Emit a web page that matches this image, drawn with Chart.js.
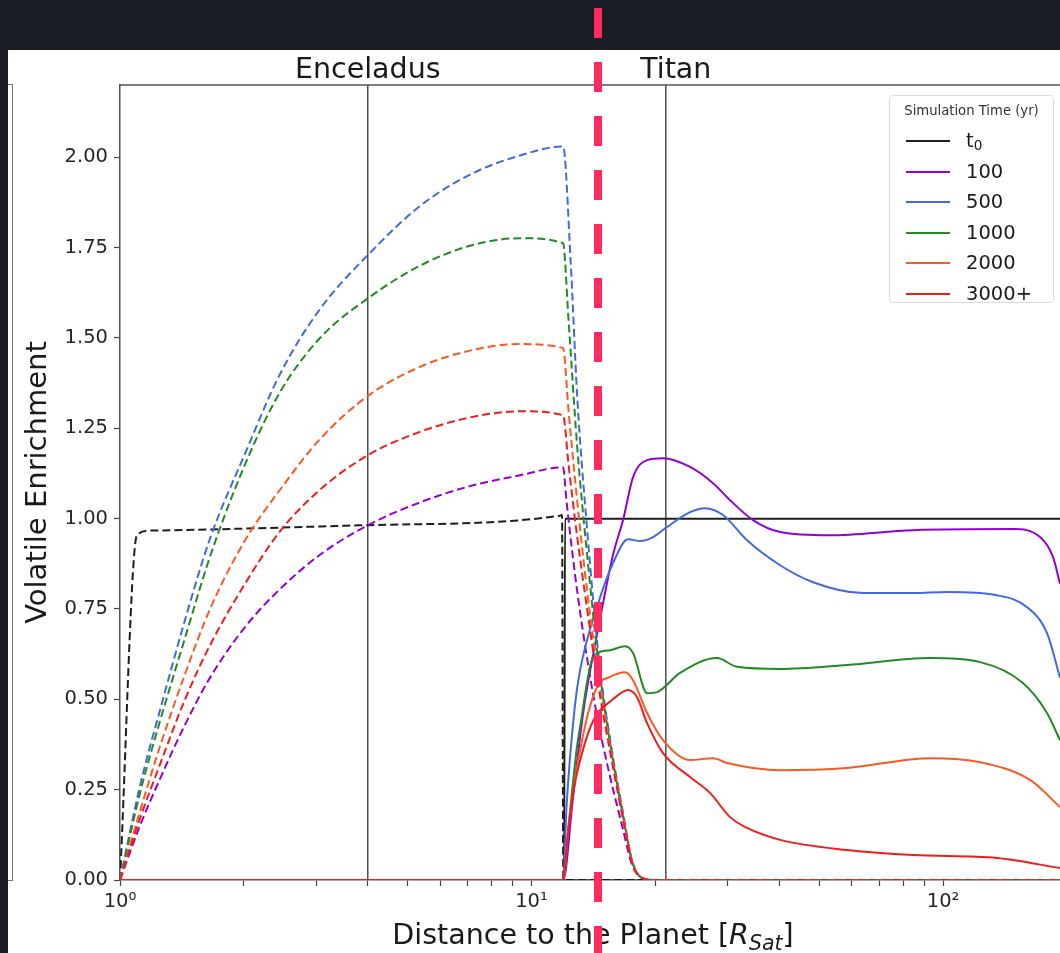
<!DOCTYPE html>
<html>
<head>
<meta charset="utf-8">
<script src="https://cdn.jsdelivr.net/npm/chart.js@4.4.1/dist/chart.umd.min.js"></script>
<style>
  html, body { margin: 0; padding: 0; width: 1060px; height: 953px; overflow: hidden; background: #1b1d25; font-family: 'DejaVu Sans', sans-serif; }
  #panel { position: absolute; left: 8px; top: 50px; width: 1052px; height: 903px; background: #fff; }
  #chart { position: absolute; left: 8px; top: 50px; }
  #leftFrame { position: absolute; left: 8px; top: 84px; width: 4px; height: 795px; border: 1.5px solid #777; border-left: none; }
  #xTitle { position: absolute; left: 293px; width: 600px; top: 921px; text-align: center; font-size: 28.5px; line-height: 1; color: #1a1a1a; }
  #xTitle sub { font-size: 0.72em; vertical-align: -0.28em; line-height: 0; }
  #legend { position: absolute; left: 889px; top: 95px; width: 165px; height: 208px; box-sizing: border-box; border: 1px solid #dcdcdc; border-radius: 4px; background: rgba(255,255,255,0.9); }
  #legend .title { position: absolute; left: 0; width: 100%; top: 7px; text-align: center; font-size: 13.2px; color: #333; }
  #legend .row { position: absolute; left: 0; width: 100%; height: 24px; }
  #legend .swatch { position: absolute; left: 16px; top: 11px; width: 44px; height: 2.2px; }
  #legend .label { position: absolute; left: 76px; top: 0; font-size: 19.5px; line-height: 24px; color: #1a1a1a; }
  #legend sub { font-size: 0.7em; vertical-align: -0.2em; line-height: 0; }
  #marker { position: absolute; left: 594px; top: 8px; width: 8px; height: 945px; background: repeating-linear-gradient(to bottom, #fd2b5f 0px, #fd2b5f 30px, transparent 30px, transparent 54px); }
</style>
</head>
<body>
<div id="panel"></div>
<div id="leftFrame"></div>
<canvas id="chart" width="1052" height="903"></canvas>
<div id="xTitle">Distance to the Planet [<i>R</i><sub><i>Sat</i></sub>]</div>
<div id="legend"><div class="title">Simulation Time (yr)</div></div>
<div id="marker"></div>
<script>
// ==================== DATA ====================
const timeLabels = ['t<sub>0</sub>', '100', '500', '1000', '2000', '3000+'];
const timeColors = ['#1e1e1e', '#9400d3', '#4169e1', '#228b22', '#fa5a24', '#f21c1c'];

const moonNames = ['Enceladus', 'Titan'];
const moonDist = [4.0, 21.2];

const xTickValues = [1, 2, 3, 4, 5, 6, 7, 8, 9, 10, 20, 30, 40, 50, 60, 70, 80, 90, 100];
const xTickLabels = { 1: '10\u2070', 10: '10\u00b9', 100: '10\u00b2' };
const yTickValues = [0, 0.25, 0.5, 0.75, 1.0, 1.25, 1.5, 1.75, 2.0];

// inner disk (dashed) - [distance, enrichment]
const inner_t0 = [[1, 0], [1.100, 0.955], [1.196, 0.967], [4.007, 0.982], [11.73, 1.008], [11.86, 1.01], [11.95, 0], [192.4, 0]];
const inner_100 = [[1, 0], [1.118, 0.15], [1.251, 0.28], [1.439, 0.43], [1.655, 0.56], [2.013, 0.70], [2.448, 0.805], [3.062, 0.90], [4.007, 0.982], [5.358, 1.045], [7.088, 1.09], [9.376, 1.12], [11.93, 1.142], [12.16, 1.05], [12.74, 0.85], [13.49, 0.65], [14.45, 0.45], [15.49, 0.29], [16.6, 0.15], [17.58, 0.04], [18.62, 0.005], [19.95, 0], [192.4, 0]];
const inner_500 = [[1, 0], [1.118, 0.26], [1.251, 0.47], [1.439, 0.72], [1.655, 0.945], [2.013, 1.18], [2.448, 1.40], [3.062, 1.58], [4.007, 1.73], [5.358, 1.865], [7.088, 1.952], [9.376, 2.005], [11.93, 2.03], [12.45, 1.71], [12.91, 1.34], [13.65, 0.97], [14.62, 0.60], [15.67, 0.36], [16.67, 0.19], [17.58, 0.05], [18.62, 0.005], [19.95, 0], [192.4, 0]];
const inner_1000 = [[1, 0], [1.118, 0.24], [1.251, 0.44], [1.439, 0.67], [1.655, 0.895], [2.013, 1.15], [2.448, 1.35], [3.062, 1.50], [4.007, 1.61], [5.358, 1.70], [7.088, 1.755], [9.376, 1.776], [11.93, 1.762], [12.3, 1.55], [12.91, 1.2], [13.65, 0.90], [14.62, 0.58], [15.67, 0.35], [16.67, 0.18], [17.58, 0.05], [18.62, 0.005], [19.95, 0], [192.4, 0]];
const inner_2000 = [[1, 0], [1.118, 0.19], [1.251, 0.37], [1.439, 0.57], [1.655, 0.75], [2.013, 0.94], [2.448, 1.08], [3.062, 1.22], [4.007, 1.34], [5.358, 1.42], [7.088, 1.465], [9.376, 1.483], [11.93, 1.472], [12.3, 1.30], [12.91, 1.05], [13.65, 0.80], [14.62, 0.55], [15.67, 0.34], [16.67, 0.18], [17.58, 0.05], [18.62, 0.005], [19.95, 0], [192.4, 0]];
const inner_3000 = [[1, 0], [1.118, 0.17], [1.251, 0.32], [1.439, 0.50], [1.655, 0.65], [2.013, 0.82], [2.448, 0.965], [3.062, 1.08], [4.007, 1.176], [5.358, 1.24], [7.088, 1.28], [9.376, 1.297], [11.93, 1.286], [12.3, 1.15], [12.91, 0.95], [13.65, 0.75], [14.62, 0.52], [15.67, 0.33], [16.67, 0.17], [17.58, 0.045], [18.62, 0.005], [19.95, 0], [192.4, 0]];

// outer disk (solid)
const outer_t0 = [[1, 0], [12.0, 0], [12.06, 1.0], [192.4, 1.0]];
const outer_100 = [[1, 0], [11.94, 0], [12.59, 0.22], [13.34, 0.46], [14.66, 0.72], [15.78, 0.90], [16.69, 0.996], [17.65, 1.115], [19.09, 1.162], [20.87, 1.167], [24.28, 1.143], [27.61, 1.098], [30.37, 1.051], [34.54, 0.996], [40.18, 0.963], [53.14, 0.954], [84.57, 0.968], [147.9, 0.971], [172.1, 0.949], [185.0, 0.894], [192.4, 0.82]];
const outer_500 = [[1, 0], [11.94, 0], [12.16, 0.2], [12.74, 0.48], [13.12, 0.58], [14.42, 0.755], [15.78, 0.877], [17.16, 0.943], [18.35, 0.938], [19.74, 0.949], [21.35, 0.977], [24.28, 1.018], [26.41, 1.029], [29.2, 1.01], [33.4, 0.94], [40.18, 0.871], [48.32, 0.824], [63.91, 0.794], [84.57, 0.794], [102.3, 0.797], [135.3, 0.788], [160.0, 0.755], [178.9, 0.683], [192.4, 0.56]];
const outer_1000 = [[1, 0], [11.94, 0], [12.3, 0.15], [12.9, 0.37], [13.12, 0.423], [14.11, 0.617], [15.52, 0.636], [16.87, 0.647], [17.65, 0.628], [19.09, 0.517], [20.18, 0.52], [22.96, 0.573], [28.23, 0.614], [31.58, 0.59], [40.18, 0.584], [58.45, 0.595], [92.98, 0.614], [123.0, 0.603], [156.4, 0.545], [178.9, 0.462], [192.4, 0.387]];
const outer_2000 = [[1, 0], [11.94, 0], [12.3, 0.15], [13.34, 0.40], [14.42, 0.534], [15.52, 0.562], [16.87, 0.575], [17.65, 0.553], [19.09, 0.462], [20.87, 0.387], [24.28, 0.332], [27.61, 0.337], [29.86, 0.324], [40.18, 0.304], [58.45, 0.31], [92.98, 0.337], [123.0, 0.326], [162.7, 0.277], [192.4, 0.202]];
const outer_3000 = [[1, 0], [11.94, 0], [12.19, 0.10], [12.62, 0.24], [13.12, 0.33], [14.11, 0.44], [15.78, 0.50], [17.16, 0.526], [18.05, 0.506], [19.09, 0.434], [20.87, 0.351], [24.28, 0.285], [27.15, 0.241], [30.37, 0.174], [33.4, 0.144], [40.18, 0.111], [58.45, 0.083], [84.57, 0.069], [135.3, 0.061], [192.4, 0.033]];

const innerSeries = [inner_t0, inner_100, inner_500, inner_1000, inner_2000, inner_3000];
const outerSeries = [outer_t0, outer_100, outer_500, outer_1000, outer_2000, outer_3000];

// ==================== DATASETS ====================
const toPoints = arr => arr.map(p => ({ x: p[0], y: p[1] }));

let datasets = [];
moonDist.forEach(d => {
    datasets.push({ data: [{ x: d, y: 0 }, { x: d, y: 2.2 }], borderColor: '#4d4d4d', borderWidth: 1.5, tension: 0 });
});
timeColors.forEach((c, i) => {
    datasets.push({ data: toPoints(innerSeries[i]), borderColor: c, borderWidth: 2, borderDash: [8, 4], cubicInterpolationMode: 'monotone' });
    datasets.push({ data: toPoints(outerSeries[i]), borderColor: c, borderWidth: 2, cubicInterpolationMode: 'monotone' });
});
// first dataset is drawn on top in Chart.js, matplotlib draws the last on top
datasets.reverse();

// ==================== PLUGIN: top spine + moon labels ====================
const labelShift = [0, 10];
const framePlugin = {
    id: 'frame',
    afterDraw(chart) {
        const { ctx, chartArea, scales } = chart;
        ctx.save();
        ctx.strokeStyle = '#555';
        ctx.lineWidth = 1.5;
        ctx.beginPath();
        ctx.moveTo(chartArea.left, chartArea.top);
        ctx.lineTo(chartArea.right, chartArea.top);
        ctx.stroke();
        ctx.fillStyle = '#1a1a1a';
        ctx.font = '28.5px "DejaVu Sans"';
        ctx.textAlign = 'center';
        ctx.textBaseline = 'alphabetic';
        moonNames.forEach((n, i) => ctx.fillText(n, scales.x.getPixelForValue(moonDist[i]) + labelShift[i], chartArea.top - 7));
        ctx.restore();
    }
};

// ==================== CHART ====================
new Chart(document.getElementById('chart').getContext('2d'), {
    type: 'line',
    data: { datasets: datasets },
    plugins: [framePlugin],
    options: {
        responsive: false,
        animation: false,
        devicePixelRatio: 1,
        layout: { padding: { top: 35, right: 0, left: 0, bottom: 0 } },
        elements: { point: { radius: 0 }, line: { borderJoinStyle: 'round' } },
        plugins: { legend: { display: false }, tooltip: { enabled: false } },
        scales: {
            x: {
                type: 'logarithmic',
                min: 1,
                max: 192.4,
                afterBuildTicks: s => { s.ticks = xTickValues.map(v => ({ value: v })); },
                afterFit: s => { s.height = 73; },
                grid: { drawOnChartArea: false, tickLength: 6, color: '#444', tickWidth: 1.2 },
                border: { display: true, color: '#555', width: 1.5 },
                ticks: {
                    autoSkip: false, maxRotation: 0, padding: 4,
                    font: { family: 'DejaVu Sans', size: 19.5 }, color: '#262626',
                    callback: v => xTickLabels[v] || ''
                }
            },
            y: {
                min: 0,
                max: 2.2,
                afterBuildTicks: s => { s.ticks = yTickValues.map(v => ({ value: v })); },
                afterFit: s => { s.width = 112; },
                grid: { drawOnChartArea: false, tickLength: 6, color: '#444', tickWidth: 1.2 },
                border: { display: true, color: '#555', width: 1.5 },
                title: { display: true, text: 'Volatile Enrichment', color: '#1a1a1a', font: { family: 'DejaVu Sans', size: 29 }, padding: { top: 13, bottom: 0 } },
                ticks: {
                    padding: 6,
                    font: { family: 'DejaVu Sans', size: 19.5 }, color: '#262626',
                    callback: v => v.toFixed(2)
                }
            }
        }
    }
});

// ==================== LEGEND ====================
const legend = document.getElementById('legend');
timeLabels.forEach((label, i) => {
    const row = document.createElement('div');
    row.className = 'row';
    row.style.top = (33 + i * 30.5) + 'px';
    row.innerHTML = `<div class="swatch" style="background:${timeColors[i]}"></div><div class="label">${label}</div>`;
    legend.appendChild(row);
});
</script>
</body>
</html>
